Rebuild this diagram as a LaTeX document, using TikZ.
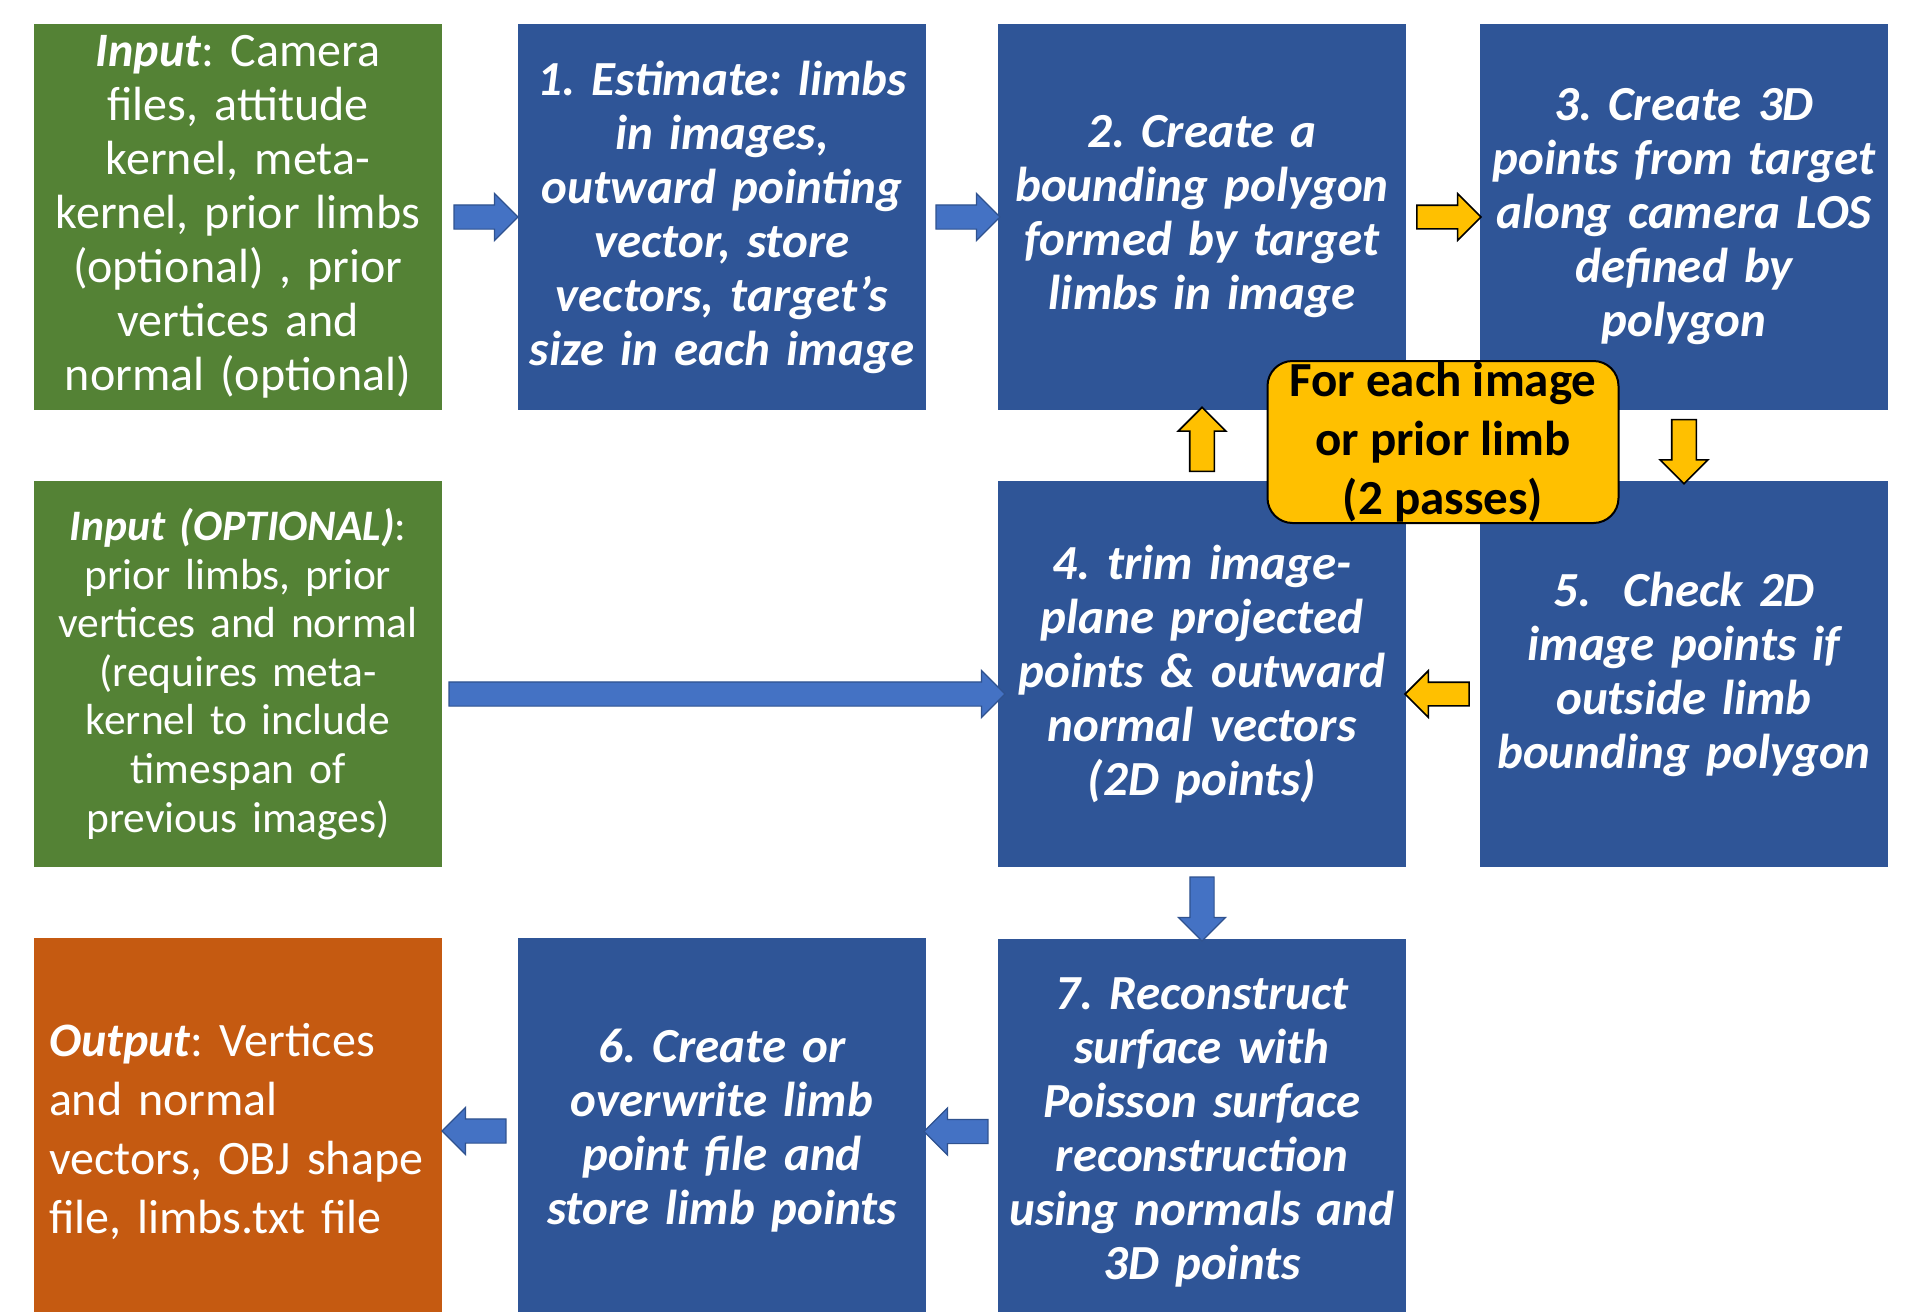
\documentclass[tikz,border=0pt]{standalone}
\usepackage{fontspec}
\setmainfont{Carlito}
\frenchspacing
\usetikzlibrary{positioning, shapes.arrows, calc}
\definecolor{boxblue}{HTML}{2F5597}
\definecolor{ingreen}{HTML}{548235}
\definecolor{outorange}{HTML}{C55A11}
\definecolor{loopyellow}{HTML}{FFC000}
\definecolor{arrowblue}{HTML}{4472C4}
\definecolor{arrowedge}{HTML}{2F528F}
\tikzset{
task box/.style = { rectangle, fill = boxblue, text = white, inner sep = 0pt, minimum width = 408pt, minimum height = 386pt, text width = 404pt, align = center, font = \fontsize{49}{54}\selectfont\bfseries\itshape },
in box/.style = { task box, fill = ingreen, font = \fontsize{48}{54}\selectfont },
out box/.style = { task box, fill = outorange, text width = 378pt, align = left, font = \fontsize{48}{59}\selectfont },
loop box/.style = { rectangle, draw = black, line width = 2pt, fill = loopyellow, rounded corners = 25pt, inner sep = 0pt, minimum width = 351pt, minimum height = 162pt, align = center, font = \fontsize{49}{59}\selectfont\bfseries },
flow arrow/.style = { single arrow, draw = arrowedge, fill = arrowblue, line width = 1.2pt, inner xsep = 0pt, inner ysep = 11.5pt, minimum width = 0pt, single arrow head extend = 11.5pt, minimum height = 64pt },
loop arrow/.style = { flow arrow, draw = black, fill = loopyellow, line width = 1.6pt, inner ysep = 11pt },
upright/.style = { inner xsep = 11.5pt, inner ysep = 0pt },
}
\begin{document}
\begin{tikzpicture}[x = 1pt, y = -1pt]
    \useasboundingbox (0, 0) rectangle (1920, 1312);
    \clip (0, 0) rectangle (1920, 1312);
    % row 1
    \node[in box] (input) at (238, 217) {\textbf{\textit{Input}}: Camera\\files, attitude\\kernel, meta-\\kernel, prior limbs\\(optional) , prior\\vertices and\\normal (optional)};
    \node[task box] (estimate) at (722, 217) {1. Estimate: limbs\\in images,\\outward pointing\\vector, store\\vectors, target’s\\size in each image};
    \node[task box] (bound) at (1202, 217) {2. Create a\\bounding polygon\\formed by target\\limbs in image};
    \node[task box] (los) at (1684, 217) {3. Create 3D\\points from target\\along camera LOS\\defined by\\polygon};
    % row 2
    \node[in box, font = \fontsize{43.5}{48.6}\selectfont] (optin) at (238, 674) {\textbf{\textit{Input (OPTIONAL)}}:\\prior limbs, prior\\vertices and normal\\(requires meta-\\kernel to include\\timespan of\\previous images)};
    \node[task box] (trim) at (1202, 674) {4. trim image-\\plane projected\\points \& outward\\normal vectors\\(2D points)};
    \node[task box] (check) at (1684, 674) {5.\ \ Check 2D\\image points if\\outside limb\\bounding polygon};
    % row 3
    \node[out box] (output) at (238, 1131) {\textbf{\textit{Output}}: Vertices\\and normal\\vectors, OBJ shape\\file, limbs.txt file};
    \node[task box] (store) at (722, 1131) {6. Create or\\overwrite limb\\point file and\\store limb points};
    \node[task box] (recon) at (1202, 1132) {7. Reconstruct\\surface with\\Poisson surface\\reconstruction\\using normals and\\3D points};
    % arrows
    \node[flow arrow] (a1) at ($(input.east)!0.5!(estimate.west)$) {};
    \node[flow arrow] (a2) at ($(estimate.east)!0.5!(bound.west)$) {};
    \node[loop arrow] (a3) at ($(bound.east)!0.5!(los.west)$) {};
    \node[loop arrow, upright, shape border rotate = 270] (a4) at ($(los.south)!0.5!(check.north)$) {};
    \node[loop arrow, shape border rotate = 180] (a5) at ($(check.west)!0.5!(trim.east) + (0, 20)$) {};
    \node[loop arrow, upright, shape border rotate = 90] (a6) at ($(trim.north)!0.5!(bound.south)$) {};
    \node[flow arrow, minimum height = 556pt] (a7) at ($(optin.east)!0.5!(trim.west) + (1, 20)$) {};
    \node[flow arrow, upright, shape border rotate = 270] (a8) at ($(trim.south)!0.5!(recon.north)$) {};
    \node[flow arrow, shape border rotate = 180] (a9) at ($(recon.west)!0.5!(store.east)$) {};
    \node[flow arrow, shape border rotate = 180] (a10) at ($(store.west)!0.5!(output.east)$) {};
    \node[loop box] (loop) at (1443, 442) {For each image\\or prior limb\\(2 passes)};
\end{tikzpicture}
\end{document}
